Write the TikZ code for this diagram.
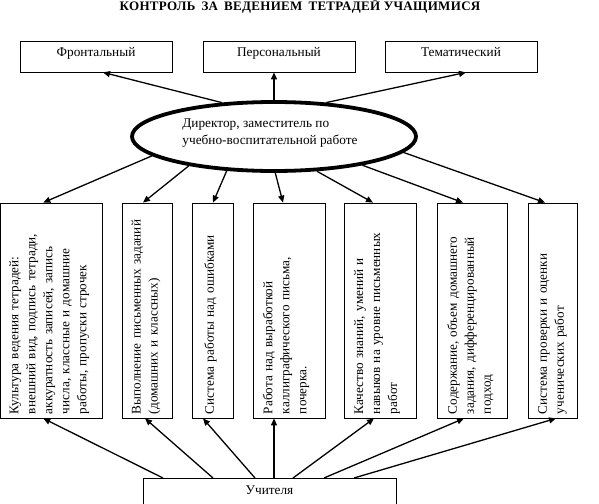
\documentclass[tikz,border=0pt]{standalone}
\usepackage{fontspec}
\setmainfont{Liberation Serif}
\usetikzlibrary{arrows.meta,shapes.geometric}
\begin{document}
\begin{tikzpicture}[x=1pt,y=-1pt,
  box/.style={draw, line width=0.8pt, inner sep=0pt},
  lbl/.style={font=\fontsize{13.3}{17}\selectfont},
  arr/.style={line width=1.3pt, -{Triangle[length=7pt,width=6pt]}},
  vtext/.style={rotate=90, text width=205pt, align=left, inner sep=0pt, font=\fontsize{13.2}{17}\selectfont}]
\useasboundingbox (0,0) rectangle (599,503);
\clip (0,0) rectangle (599,503);

% title
\node[font=\bfseries\fontsize{13}{14}\selectfont\addfontfeatures{LetterSpace=2.5}, inner sep=0pt] (title) at (300,6.5)
  {КОНТРОЛЬ\hspace{6pt}ЗА\hspace{6pt}ВЕДЕНИЕМ\hspace{6pt}ТЕТРАДЕЙ УЧАЩИМИСЯ};

% top boxes
\node[box, lbl, minimum width=152pt, minimum height=31pt, text depth=9pt] (F) at (96,56.5) {Фронтальный};
\node[box, lbl, minimum width=152pt, minimum height=31pt, text depth=9pt] (P) at (279,56.5) {Персональный};
\node[box, lbl, minimum width=152pt, minimum height=31pt, text depth=9pt] (T) at (461,56.5) {Тематический};

% central ellipse
\node[draw, ellipse, line width=3.8pt, minimum width=284pt, minimum height=69pt, inner sep=0pt] (D) at (274,136.5) {};
\node[lbl, align=left, inner sep=0pt] (Dt) at (270,133.5) {Директор, заместитель по\\учебно-воспитательной работе};

% lower boxes
\node[box, minimum width=101.5pt, minimum height=215pt] (b1) at (51.25,310.5) {};
\node[box, minimum width=50pt, minimum height=215pt] (b2) at (147,310.5) {};
\node[box, minimum width=41pt, minimum height=215pt] (b3) at (212.5,310.5) {};
\node[box, minimum width=72pt, minimum height=215pt] (b4) at (289,310.5) {};
\node[box, minimum width=72pt, minimum height=215pt] (b5) at (380,310.5) {};
\node[box, minimum width=70pt, minimum height=215pt] (b6) at (472,310.5) {};
\node[box, minimum width=49pt, minimum height=215pt] (b7) at (552.5,310.5) {};

\node[vtext] (t1) at ([xshift=-2pt,yshift=-1pt]b1.center) {Культура ведения тетрадей:\\внешний вид, подпись тетради,\\аккуратность записей, запись\\числа, классные и домашние\\работы, пропуски строчек};
\node[vtext] (t2) at ([xshift=-1pt,yshift=-1pt]b2.center) {Выполнение письменных заданий\\(домашних и классных)};
\node[vtext] (t3) at ([xshift=-2pt,yshift=-1pt]b3.center) {Система работы над ошибками};
\node[vtext] (t4) at ([xshift=-3pt,yshift=-1pt]b4.center) {Работа над выработкой\\каллиграфического письма,\\почерка.};
\node[vtext] (t5) at ([xshift=-3pt,yshift=-1pt]b5.center) {Качество знаний, умений и\\навыков на уровне письменных\\работ};
\node[vtext] (t6) at ([xshift=-1.5pt,yshift=-1pt]b6.center) {Содержание, объем домашнего\\задания, дифференцированный\\подход};
\node[vtext] (t7) at ([yshift=-1pt]b7.center) {Система проверки и оценки\\ученических работ};

% bottom box
\node[box, lbl, anchor=north, minimum width=253pt, text height=12pt, text depth=34pt, inner ysep=4pt] (U) at (269.5,478) {Учителя};

% arrows from director
\draw[arr] (D.147.4) -- ([xshift=7pt]F.south);
\draw[arr] (D.90) -- ([xshift=-5pt]P.south);
\draw[arr] (D.33.6) -- ([xshift=5pt]T.south);
\draw[arr] (D.-171.1) -- ([xshift=-8pt]b1.north);
\draw[arr] (D.-161.8) -- ([xshift=-4pt]b2.north);
\draw[arr] (D.-144.4) -- ([xshift=0.5pt]b3.north);
\draw[arr] (D.-88) -- ([xshift=-6pt]b4.north);
\draw[arr] (D.-39.7) -- ([xshift=-7pt]b5.north);
\draw[arr] (D.-18.7) -- ([xshift=-9pt]b6.north);
\draw[arr] (D.-7) -- ([xshift=-7.5pt]b7.north);

% arrows from teachers
\draw[arr] ([xshift=-106.5pt]U.north) -- ([xshift=-8pt]b1.south);
\draw[arr] ([xshift=-56.5pt]U.north) -- ([xshift=-2pt]b2.south);
\draw[arr] ([xshift=-14.5pt]U.north) -- ([xshift=-9.5pt]b3.south);
\draw[arr] ([xshift=4.5pt]U.north) -- ([xshift=-15pt]b4.south);
\draw[arr] ([xshift=23.5pt]U.north) -- ([xshift=-6pt]b5.south);
\draw[arr] ([xshift=54.5pt]U.north) -- ([xshift=-8pt]b6.south);
\draw[arr] ([xshift=84.5pt]U.north) -- ([xshift=3.5pt]b7.south);
\end{tikzpicture}
\end{document}
